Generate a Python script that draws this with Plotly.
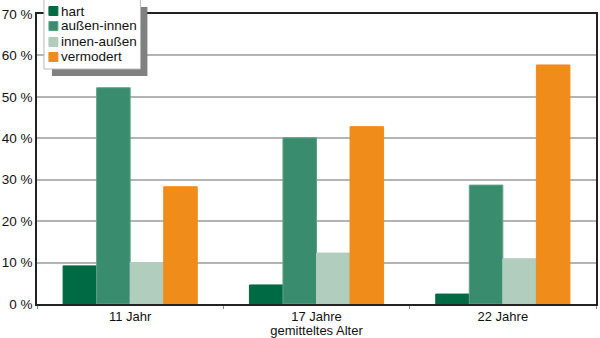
import plotly.graph_objects as go

categories = ["11 Jahr", "17 Jahre", "22 Jahre"]
series_names = ["hart", "außen-innen", "innen-außen", "vermodert"]
hart = [9.2, 4.6, 2.4]
aussen_innen = [52.2, 40.1, 28.7]
innen_aussen = [10.0, 12.3, 10.9]
vermodert = [28.3, 42.8, 57.7]
y_ticks = [0, 10, 20, 30, 40, 50, 60, 70]
y_tick_labels = [f"{v} %" for v in y_ticks]

colors = ["#006A45", "#3A8C6E", "#B0CDBE", "#EF8C1A"]
edges = ["#006A45", "#5FA386", "#B0CDBE", "#EF8C1A"]
values = [hart, aussen_innen, innen_aussen, vermodert]

fig = go.Figure()
for name, vals, c, e in zip(series_names, values, colors, edges):
    fig.add_trace(go.Bar(x=categories, y=vals, name=name,
                         marker=dict(color=c, line=dict(color=e, width=1))))

W, H = 600, 338
L, R, T, B = 36, 2, 14, 34
pw, ph = W - L - R, H - T - B

def px_x(p):
    return (p - L) / pw

def px_y(p):
    return (H - B - p) / ph

# legend shadow
fig.add_shape(type="rect", xref="paper", yref="paper",
              x0=px_x(51), x1=px_x(147), y0=px_y(76), y1=px_y(7),
              fillcolor="#808080", line=dict(width=0), layer="above")
# legend box
fig.add_shape(type="rect", xref="paper", yref="paper",
              x0=px_x(43), x1=px_x(140), y0=px_y(69), y1=px_y(-2),
              fillcolor="white", line=dict(color="#B8B8B8", width=1), layer="above")
row_y = [11, 26, 42, 57]
for name, c, e, ry in zip(series_names, colors, edges, row_y):
    fig.add_shape(type="rect", xref="paper", yref="paper",
                  x0=px_x(48), x1=px_x(57), y0=px_y(ry + 4.5), y1=px_y(ry - 4.5),
                  fillcolor=c, line=dict(color=e, width=1), layer="above")
    fig.add_annotation(xref="paper", yref="paper", x=px_x(58), y=px_y(ry),
                       text=name, showarrow=False, xanchor="left", yanchor="middle",
                       font=dict(size=13.5, color="#111"))

fig.update_layout(
    width=W, height=H,
    margin=dict(l=L, r=R, t=T, b=B),
    paper_bgcolor="white", plot_bgcolor="white",
    font=dict(family="Liberation Sans, Arial, sans-serif", size=13, color="#111"),
    barmode="group", bargap=0.28, bargroupgap=0,
    showlegend=False,
    xaxis=dict(showline=True, linecolor="#222", linewidth=1.5, mirror=True,
               ticks="outside", ticklen=3, tickcolor="#888",
               tickson="boundaries",
               title=dict(text="gemitteltes Alter", standoff=1,
                          font=dict(size=13, color="#111")),
               tickfont=dict(size=13, color="#111")),
    yaxis=dict(range=[0, 70], tickvals=y_ticks, ticktext=y_tick_labels,
               showline=True, linecolor="#222", linewidth=1.5, mirror=True,
               gridcolor="#B4B4B4", gridwidth=1.5, zeroline=False,
               ticks="", tickfont=dict(size=13.5, color="#111")),
)

fig.write_html("out.html")
